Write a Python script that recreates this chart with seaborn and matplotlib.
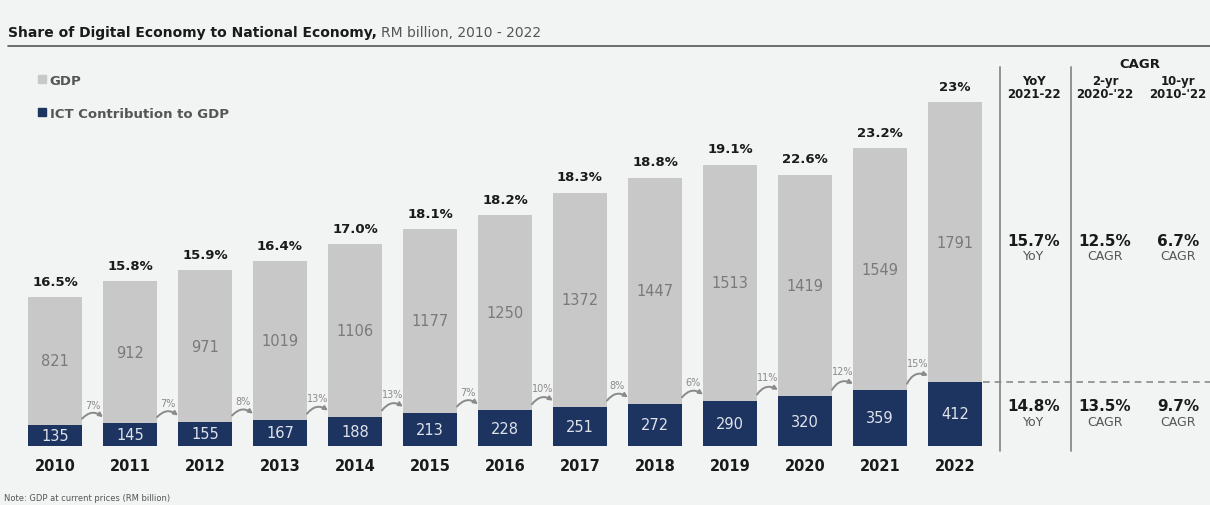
import numpy as np
import pandas as pd
import seaborn as sns
import matplotlib.pyplot as plt
from matplotlib.lines import Line2D
from matplotlib.patches import Patch

years = ['2010', '2011', '2012', '2013', '2014', '2015', '2016',
         '2017', '2018', '2019', '2020', '2021', '2022']
gdp = [821, 912, 971, 1019, 1106, 1177, 1250, 1372, 1447, 1513, 1419, 1549, 1791]
ict = [135, 145, 155, 167, 188, 213, 228, 251, 272, 290, 320, 359, 412]
share = ['16.5%', '15.8%', '15.9%', '16.4%', '17.0%', '18.1%', '18.2%',
         '18.3%', '18.8%', '19.1%', '22.6%', '23.2%', '23%']
growth = ['7%', '7%', '8%', '13%', '13%', '7%', '10%', '8%', '6%', '11%', '12%', '15%']
headers = ['YoY\n2021-22', "2-yr\n2020-'22", "10-yr\n2010-'22"]
gdp_rates = ['15.7%', '12.5%', '6.7%']
ict_rates = ['14.8%', '13.5%', '9.7%']
rate_kinds = ['YoY', 'CAGR', 'CAGR']

GRAY = '#c8c8c8'
NAVY = '#1d3461'
BG = '#f2f3f3'
W, H = 1210, 506

sns.set_style('white')
plt.rcParams['font.family'] = ['DejaVu Sans']

df = pd.DataFrame({'year': years, 'gdp': gdp, 'ict': ict})
df['total'] = df['gdp'] + df['ict']

fig = plt.figure(figsize=(W / 100, H / 100), dpi=100, facecolor=BG)
# axes spans full width; baseline at y=447px
ax = fig.add_axes([0, 59 / H, 1, 387 / H])
ax.set_facecolor(BG)

sns.barplot(data=df, x='year', y='total', color=GRAY, width=0.733,
            saturation=1, linewidth=0, ax=ax)
sns.barplot(data=df, x='year', y='ict', color=NAVY, width=0.733,
            saturation=1, linewidth=0, ax=ax)

ax.set_xlim(-55 / 75, (W - 55) / 75)
ax.set_ylim(0, 387 / 0.156)
for s in ax.spines.values():
    s.set_visible(False)
ax.set_xlabel('')
ax.set_ylabel('')
ax.set_yticks([])
ax.set_xticks(range(len(years)))
ax.set_xticklabels(years, fontsize=10.5, fontweight='bold', color='#1a1a1a')
ax.tick_params(axis='x', length=0, pad=9)

for i in range(len(years)):
    tot = df['total'][i]
    ax.text(i, tot + 60, share[i], ha='center', va='bottom', fontsize=9.5,
            fontweight='bold', color='#1a1a1a')
    ax.text(i, ict[i] + gdp[i] / 2, str(gdp[i]), ha='center', va='center',
            fontsize=10.5, color='#7a7a7a')
    ax.text(i, ict[i] / 2, str(ict[i]), ha='center', va='center',
            fontsize=10.5, color='#dfe3ea')

for i in range(len(growth)):
    ax.annotate('', xy=(i + 1 - 0.36, ict[i + 1] + 40),
                xytext=(i + 0.36, ict[i] + 40),
                arrowprops=dict(arrowstyle='-|>', connectionstyle='arc3,rad=-0.45',
                                color='#8a8a8a', lw=1.4, mutation_scale=6,
                                shrinkA=0, shrinkB=0))
    ax.text(i + 0.5, max(ict[i], ict[i + 1]) + 120, growth[i], ha='center',
            va='center', fontsize=7, color='#8a8a8a')

# dashed divider at ICT 2022 level
ax.hlines(ict[-1], 12.37, (W - 55) / 75, colors='#8a8a8a', linestyles=(0, (4, 3)),
          lw=1.2)

legend = ax.legend(handles=[Patch(color=GRAY, label='GDP'),
                            Patch(color=NAVY, label='ICT Contribution to GDP')],
                   loc='upper left', bbox_to_anchor=(26 / W, 1 - 63 / H),
                   bbox_transform=fig.transFigure, frameon=False,
                   handlelength=0.6, handleheight=0.6, handletextpad=0.3,
                   labelspacing=1.5, prop={'size': 9.5, 'weight': 'bold'})
for t in legend.get_texts():
    t.set_color('#555555')


def px(x, y):
    return x / W, 1 - y / H


# title
t1 = fig.text(*px(8, 33), 'Share of Digital Economy to National Economy,',
              fontsize=10, fontweight='bold', color='#1a1a1a', va='center')
fig.canvas.draw()
bb = t1.get_window_extent()
fig.text(bb.x1 / W + 4 / W, 1 - 33 / H, 'RM billion, 2010 - 2022', fontsize=10,
         color='#555555', va='center')
fig.add_artist(Line2D([8 / W, 1], [1 - 47 / H] * 2, color='#555555', lw=1.2,
                      transform=fig.transFigure))

# right panel
for xv in (1000, 1071):
    fig.add_artist(Line2D([xv / W] * 2, [1 - 68 / H, 1 - 452 / H], color='#8a8a8a',
                          lw=1.3, transform=fig.transFigure))

fig.text(*px(1140, 65), 'CAGR', fontsize=9.5, fontweight='bold', ha='center',
         va='center', color='#1a1a1a')
cols = [1034, 1105, 1178]
for c, h in zip(cols, headers):
    fig.text(*px(c, 88), h, fontsize=8.5, fontweight='bold', ha='center',
             va='center', color='#1a1a1a', linespacing=1.05)
for c, g, k in zip(cols, gdp_rates, rate_kinds):
    fig.text(*px(c, 241), g, fontsize=11, fontweight='bold', ha='center',
             va='center', color='#1a1a1a')
    fig.text(*px(c, 257), k, fontsize=9, ha='center', va='center', color='#555555')
for c, g, k in zip(cols, ict_rates, rate_kinds):
    fig.text(*px(c, 407), g, fontsize=11, fontweight='bold', ha='center',
             va='center', color='#1a1a1a')
    fig.text(*px(c, 423), k, fontsize=9, ha='center', va='center', color='#555555')

fig.text(*px(4, 499), 'Note: GDP at current prices (RM billion)', fontsize=6,
         color='#555555', va='center')

plt.savefig('out.png', dpi=100, facecolor=BG)
plt.close()
